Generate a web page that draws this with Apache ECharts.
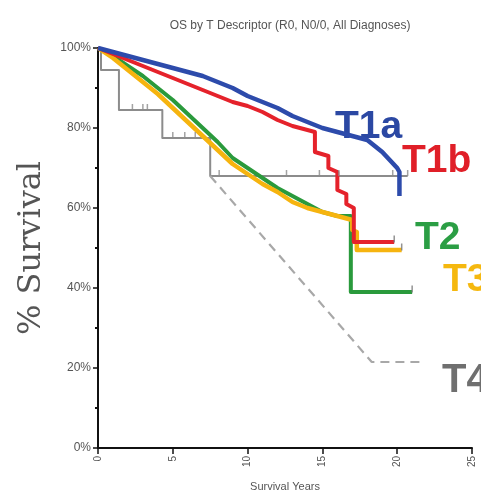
<!DOCTYPE html>
<html>
<head>
<meta charset="utf-8">
<script src="https://cdn.jsdelivr.net/npm/echarts@6/dist/echarts.min.js"></script>
<style>html,body{margin:0;padding:0;background:#fff;}#c{width:481px;height:503px;}</style>
</head>
<body>
<div id="c"></div>
<script>
// Kaplan-Meier curves: [years, % survival]; repeated years mark vertical drops
const t1a = [[0,100],[1,99],[2,98],[3,97],[4,96],[5,95],[6,94],[7,93],[8,91.5],[9,90],[10,88],[11,86.5],[12,85],[13,83],[14,81.5],[15,80],[16,79],[17,78],[18,77],[18.5,75.5],[19,74],[19.5,72],[20,70],[20.15,69],[20.15,63]];
const t1b = [[0,100],[1,98.5],[2,97],[3,95.5],[4,94],[5,92.5],[6,91],[7,89.5],[8,88],[9,86.5],[10,85.5],[11,84],[12,82],[13,80.5],[14,79.5],[14.5,79],[14.5,74],[15.4,73],[15.4,70],[16,69],[16,64.5],[16.6,63.5],[16.6,61],[17.1,60],[17.1,51.5],[19.8,51.5]];
const t2 = [[0,100],[1,98],[2,95.5],[3,93],[4,90],[5,87],[6,83.5],[7,80],[8,76.5],[9,72.5],[10,70],[11,67.5],[12,65],[13,63],[14,61],[15,59],[16,58],[16.9,58],[16.9,39],[21,39]];
const t3 = [[0,100],[1,97.5],[2,94.5],[3,91.5],[4,88.5],[5,85],[6,81.5],[7,78],[8,74.5],[9,71],[10,68.5],[11,66],[12,64],[13,61.5],[14,60],[15,59],[16,58],[17,57],[17,54.5],[17.3,54],[17.3,49.5],[20.3,49.5]];
const t4 = [[0,100],[0.2,94.5],[1.4,84.5],[4.3,77.5],[7.5,68],[20.7,68]];
const t4Dashed = [[7.5,68],[18.3,21.5],[21.7,21.5]];
const t4Censor = [[2.3,84.5],[3.0,84.5],[3.3,84.5],[5.0,77.5],[5.8,77.5],[6.5,77.5],[8.1,68],[12.6,68],[14.8,68],[16.1,68],[19.7,68],[20.7,68]];
const endCensor = [[19.8,51.5],[21,39],[20.3,49.5]];
const xTicks = [0,5,10,15,20,25];
const title = 'OS by T Descriptor (R0, N0/0, All Diagnoses)';

const chart = echarts.init(document.getElementById('c'), null, {renderer:'canvas'});
const line = (name, data, color, width, extra) => Object.assign({
  type:'line', name, data, showSymbol:false, symbol:'none',
  lineStyle:{color, width, join:'round'}, itemStyle:{color}, animation:false, z:2
}, extra||{});

chart.setOption({
  animation:false,
  title:{text:title, left:285, top:15, textAlign:'center',
    textStyle:{fontFamily:'Liberation Sans, Arial', fontSize:12, fontWeight:'normal', color:'#555'}},
  grid:{left:98, right:9, top:48, bottom:55},
  xAxis:{type:'value', min:0, max:25, interval:5,
    name:'Survival Years', nameLocation:'middle', nameGap:33,
    nameTextStyle:{fontFamily:'Liberation Sans, Arial', fontSize:11, color:'#555'},
    axisLine:{lineStyle:{color:'#111', width:2}},
    axisTick:{show:true, length:6, lineStyle:{color:'#111', width:1.5}},
    axisLabel:{rotate:90, margin:8, fontFamily:'Liberation Sans, Arial', fontSize:10, color:'#555',
      customValues: xTicks},
    splitLine:{show:false}},
  yAxis:{type:'value', min:0, max:100, interval:20,
    name:'% Survival', nameLocation:'middle', nameGap:50,
    nameTextStyle:{fontFamily:'DejaVu Serif, Liberation Serif, serif', fontSize:32, color:'#555'},
    axisLine:{show:true, lineStyle:{color:'#111', width:2}},
    axisTick:{show:true, length:5, lineStyle:{color:'#111', width:1.5}},
    minorTick:{show:true, splitNumber:2, length:3, lineStyle:{color:'#111', width:2}},
    axisLabel:{formatter:'{value}%', margin:7, fontFamily:'Liberation Sans, Arial', fontSize:12, color:'#555'},
    splitLine:{show:false}},
  series:[
    line('T4', t4, '#8c8c8c', 2, {step:'end'}),
    line('T4 projected', t4Dashed, '#a8a8a8', 2, {lineStyle:{color:'#a8a8a8', width:2.2, type:[9,6]}}),
    {type:'scatter', data:t4Censor, symbol:'rect', symbolSize:[1.5,6], symbolOffset:[0,-3], itemStyle:{color:'#8c8c8c'}, z:2, silent:true},
    line('T2', t2, '#2a9a3c', 4),
    line('T3', t3, '#f6b40f', 4.5),
    line('T1b', t1b, '#e5222b', 4),
    line('T1a', t1a, '#2d4bab', 4.5),
    {type:'scatter', data:endCensor, symbol:'rect', symbolSize:[1.5,7], symbolOffset:[0,-3], itemStyle:{color:'#777'}, z:3, silent:true}
  ],
  graphic:[
    {type:'text', left:335, top:108, style:{text:'T1a', fill:'#2b48a3', font:'bold 39px Liberation Sans, Arial', textVerticalAlign:'middle'}},
    {type:'text', left:402, top:142, style:{text:'T1b', fill:'#e01f28', font:'bold 39px Liberation Sans, Arial', textVerticalAlign:'middle'}},
    {type:'text', left:415, top:219, style:{text:'T2', fill:'#2b9e44', font:'bold 39px Liberation Sans, Arial', textVerticalAlign:'middle'}},
    {type:'text', left:443, top:261, style:{text:'T3', fill:'#f5b80f', font:'bold 39px Liberation Sans, Arial', textVerticalAlign:'middle'}},
    {type:'text', left:442, top:361, style:{text:'T4', fill:'#6f6f6f', font:'bold 40px Liberation Sans, Arial', textVerticalAlign:'middle'}}
  ]
});
</script>
</body>
</html>
